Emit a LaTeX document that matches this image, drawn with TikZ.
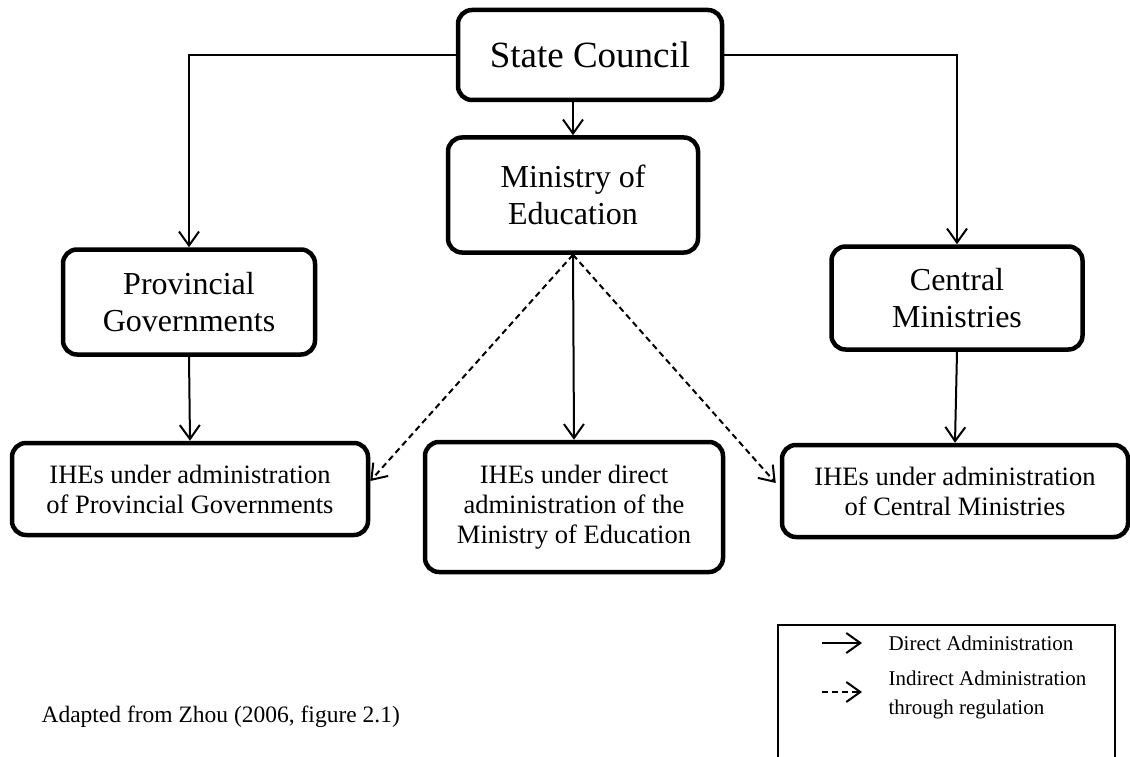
\documentclass[tikz,border=0pt]{standalone}
\usepackage{fontspec}
\setmainfont{Liberation Serif}
\usetikzlibrary{arrows.meta}

\begin{document}
\begin{tikzpicture}[x=1pt,y=-1pt,
		box/.style={draw,line width=4.5pt,rounded corners=14pt,align=center,inner sep=0pt},
		link/.style={-{Straight Barb[length=14pt,width=20pt]},line width=2pt},
		indirect/.style={link,dash pattern=on 6pt off 4pt}]
		\useasboundingbox (0,0) rectangle (1130,757);
		% top levels
		\node[box,minimum width=264pt,minimum height=90pt,font=\fontsize{37}{43}\selectfont] (council) at (590,55) {State Council};
		\node[box,minimum width=250pt,minimum height=115pt,font=\fontsize{32}{37}\selectfont] (moe) at (573,195) {Ministry of\\Education};
		\node[box,minimum width=252pt,minimum height=105pt,font=\fontsize{32}{37}\selectfont] (prov) at (189,302) {Provincial\\Governments};
		\node[box,minimum width=251pt,minimum height=103pt,font=\fontsize{32}{37}\selectfont] (cent) at (957,298) {Central\\Ministries};
		% institutions
		\node[box,minimum width=356pt,minimum height=92pt,font=\fontsize{26.5}{30}\selectfont] (iheprov) at (190,489) {IHEs under administration\\of Provincial Governments};
		\node[box,minimum width=298pt,minimum height=130pt,font=\fontsize{26.5}{30}\selectfont] (ihemoe) at (574,507) {IHEs under direct\\administration of the\\Ministry of Education};
		\node[box,minimum width=346pt,minimum height=92pt,font=\fontsize{26.5}{30}\selectfont] (ihecent) at (955,491) {IHEs under administration\\of Central Ministries};
		% connectors
		\draw[link] (council.west) -| (prov.north);
		\draw[link] (council.east) -| (cent.north);
		\draw[link] (moe.north |- council.south) -- (moe.north);
		\draw[link] (prov.south) -- (iheprov.north);
		\draw[link] (moe.south) -- (ihemoe.north);
		\draw[link] (cent.south) -- (ihecent.north);
		\draw[indirect] (moe.south) -- ([yshift=8pt]iheprov.east);
		\draw[indirect] (moe.south) -- ([yshift=8pt,xshift=-4pt]ihecent.west);
		% legend
		\draw[line width=2pt] (778,757) -- (778,625) -- (1115,625) -- (1115,757);
		\coordinate (dirA) at (822,643);
		\coordinate (dirB) at (862,643);
		\coordinate (indA) at (822,692);
		\coordinate (indB) at (862,692);
		\draw[link] (dirA) -- (dirB);
		\draw[indirect] (indA) -- (indB);
		\node[anchor=west,font=\fontsize{21}{29}\selectfont] (dirtext) at (885,643) {Direct Administration};
		\node[anchor=west,align=left,font=\fontsize{21}{29}\selectfont] (indtext) at (885,695) {Indirect Administration\\through regulation};
		\node[anchor=west,font=\fontsize{23.5}{28}\selectfont] (source) at (38,717) {Adapted from Zhou (2006, figure 2.1)};
\end{tikzpicture}
\end{document}
